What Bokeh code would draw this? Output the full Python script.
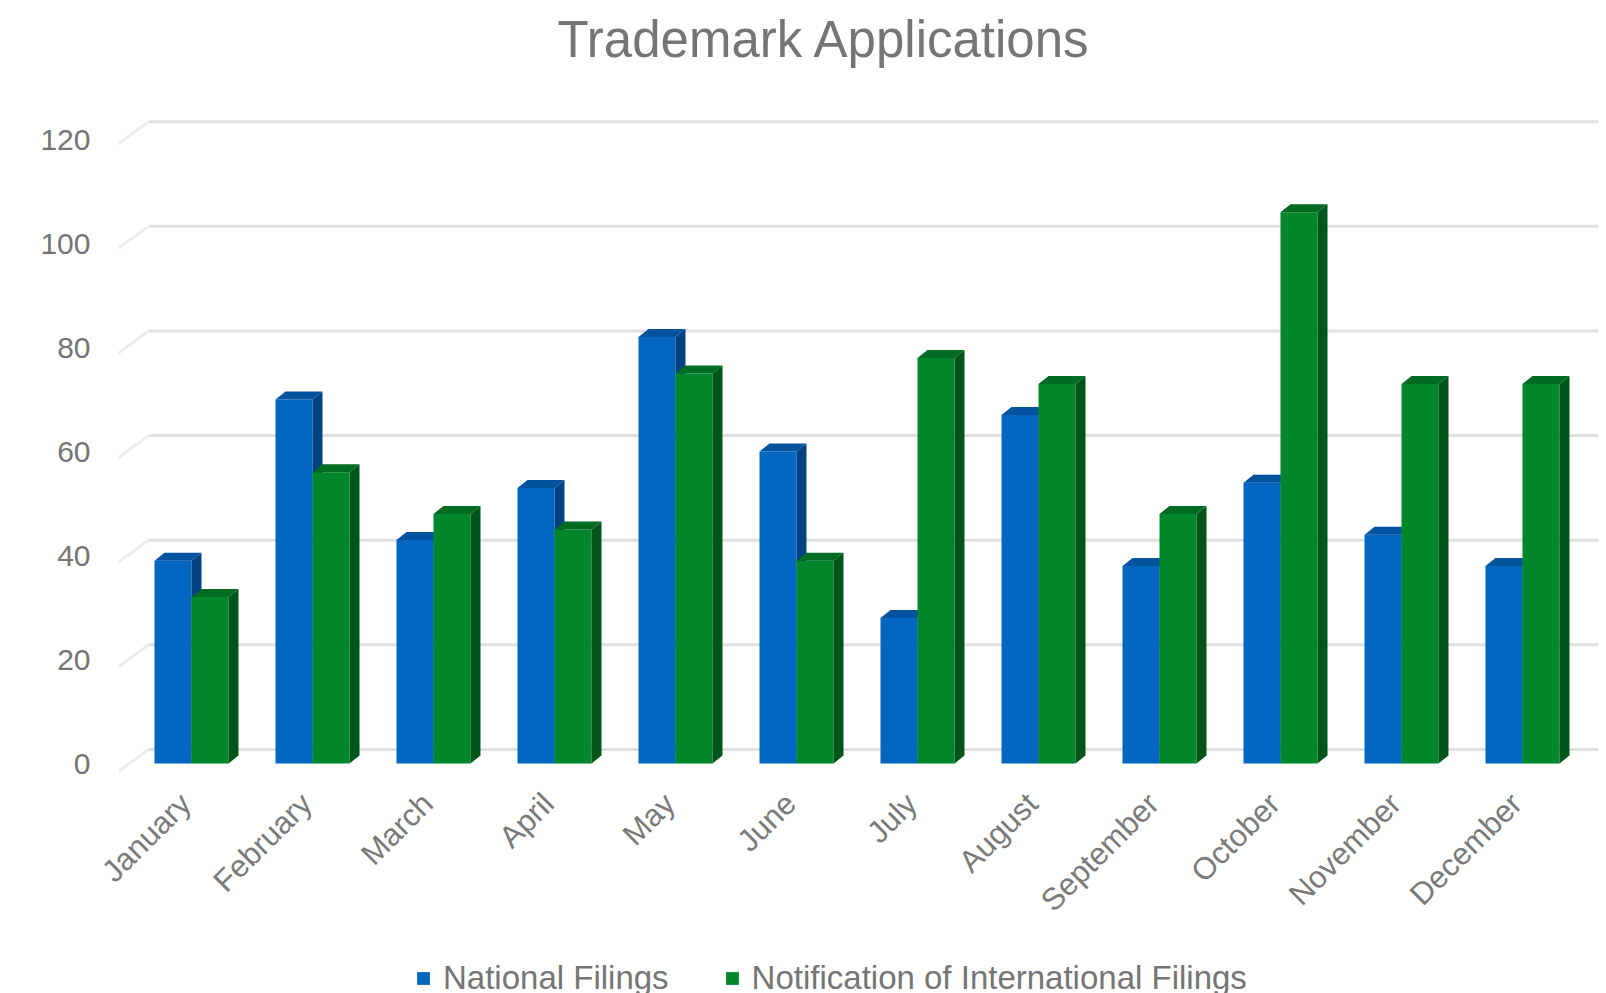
import numpy as np
from bokeh.plotting import figure
from bokeh.layouts import column
from bokeh.models import Range1d, FixedTicker, Label, Legend, LegendItem
from bokeh.embed import file_html
from bokeh.resources import INLINE

# ---------------- data ----------------
months = ["January", "February", "March", "April", "May", "June",
          "July", "August", "September", "October", "November", "December"]
national = [39, 70, 43, 53, 82, 60, 28, 67, 38, 54, 44, 38]
international = [32, 56, 48, 45, 75, 39, 78, 73, 48, 106, 73, 73]
y_ticks = [0, 20, 40, 60, 80, 100, 120]
series_names = ["National Filings", "Notification of International Filings"]
title_text = "Trademark Applications"

# ---------------- geometry / style ----------------
W, H = 1606, 993
H_LEG = 43
H_MAIN = H - H_LEG
PX_X = 121.0        # pixels per category
PX_Y = 5.2          # pixels per value unit
X0_PX, Y0_PX = 191.0, 763.0   # pixel position of category 0 / value 0
F_LEFT, F_RIGHT, F_TOP, F_BOTTOM = 118, 1600, 0, 775

x_start = (F_LEFT - X0_PX) / PX_X
x_end = (F_RIGHT - X0_PX) / PX_X
y_start = -(F_BOTTOM - Y0_PX) / PX_Y
y_end = (Y0_PX - F_TOP) / PX_Y

GRAY = "#757575"
FONT = "Liberation Sans"

p = figure(width=W, height=H_MAIN,
           x_range=Range1d(x_start, x_end), y_range=Range1d(y_start, y_end),
           output_backend="svg", toolbar_location=None,
           min_border_left=F_LEFT, min_border_right=W - F_RIGHT,
           min_border_top=F_TOP, min_border_bottom=H_MAIN - F_BOTTOM)
p.outline_line_color = None
p.xgrid.visible = False
p.ygrid.visible = False
p.background_fill_color = "white"
p.border_fill_color = "white"

# ---------------- back-wall gridlines (perspective) ----------------
n = len(y_ticks)
gx0 = (148 - X0_PX) / PX_X
gx1 = (1598 - X0_PX) / PX_X
gy = [t * 1.006 + 2.7 for t in y_ticks]
depth_y = 22 / PX_Y
p.segment(x0=[gx0] * n, y0=gy, x1=[gx1] * n, y1=gy,
          line_color="#e0e0e0", line_width=3)
p.segment(x0=[x_start] * n, y0=[g - depth_y for g in gy], x1=[gx0] * n, y1=gy,
          line_color="#ececec", line_width=3)

# ---------------- 3D-ish bars ----------------
bw = 37 / PX_X
dx = 10 / PX_X
dy = 8 / PX_Y
idx = np.arange(len(months))

styles = [
    (national, -bw / 2, "#0366C0", "#004282", "#02529E"),
    (international, bw / 2, "#00872B", "#00551A", "#006B23"),
]
for vals, off, c_front, c_side, c_top in styles:
    xc = idx + off
    xl = xc - bw / 2
    xr = xc + bw / 2
    p.vbar(x=xc, top=vals, bottom=0, width=bw,
           fill_color=c_front, line_color=None)
    side_xs = [[a, a, a + dx, a + dx] for a in xr]
    side_ys = [[0, v, v + dy, dy] for v in vals]
    p.patches(xs=side_xs, ys=side_ys, fill_color=c_side, line_color=None)
    top_xs = [[a, b, b + dx, a + dx] for a, b in zip(xl, xr)]
    top_ys = [[v, v, v + dy, v + dy] for v in vals]
    p.patches(xs=top_xs, ys=top_ys, fill_color=c_top, line_color=None)

# ---------------- axes ----------------
yax = p.yaxis[0]
yax.ticker = FixedTicker(ticks=y_ticks)
yax.axis_line_color = None
yax.major_tick_line_color = None
yax.minor_tick_line_color = None
yax.major_tick_out = 0
yax.major_label_standoff = 28
yax.major_label_text_font = FONT
yax.major_label_text_font_size = "30px"
yax.major_label_text_color = GRAY

label_shift = -0.05
x_ticks = [float(i) + label_shift for i in idx]
xax = p.xaxis[0]
xax.ticker = FixedTicker(ticks=x_ticks)
xax.major_label_overrides = {t: m for t, m in zip(x_ticks, months)}
xax.major_label_orientation = np.pi / 4
xax.axis_line_color = None
xax.major_tick_line_color = None
xax.minor_tick_line_color = None
xax.major_tick_out = 0
xax.major_label_standoff = 23
xax.major_label_text_font = FONT
xax.major_label_text_font_size = "31px"
xax.major_label_text_color = "#7a7a7a"

# ---------------- title ----------------
p.add_layout(Label(x=(824 - X0_PX) / PX_X, y=(Y0_PX - 39) / PX_Y,
                   text=title_text, text_align="center", text_baseline="middle",
                   text_font=FONT, text_font_size="51px", text_color=GRAY))

# ---------------- legend strip ----------------
q = figure(width=W, height=H_LEG, x_range=Range1d(0, 1), y_range=Range1d(0, 1),
           output_backend="svg", toolbar_location=None,
           x_axis_location=None, y_axis_location=None,
           min_border_left=0, min_border_right=0, min_border_top=0, min_border_bottom=0)
q.outline_line_color = None
q.xgrid.visible = False
q.ygrid.visible = False
# off-screen proxies that only give the legend its swatches
legend_renderers = [
    q.vbar(x=[-10], top=[-10], bottom=[-11], width=0.1,
           fill_color=styles[0][2], line_color=None),
    q.vbar(x=[-10], top=[-10], bottom=[-11], width=0.1,
           fill_color=styles[1][2], line_color=None),
]
legend = Legend(items=[LegendItem(label=series_names[0], renderers=[legend_renderers[0]]),
                       LegendItem(label=series_names[1], renderers=[legend_renderers[1]])],
                orientation="horizontal", location=(415 - F_LEFT, -4),
                glyph_width=16, glyph_height=16, label_standoff=12, spacing=55,
                padding=0, margin=0, border_line_color=None,
                background_fill_alpha=0,
                label_text_font=FONT, label_text_font_size="33px",
                label_text_color=GRAY, label_height=16)
q.add_layout(legend, "center")

layout = column(p, q, spacing=0)
open("out.html", "w").write(file_html(layout, INLINE))
